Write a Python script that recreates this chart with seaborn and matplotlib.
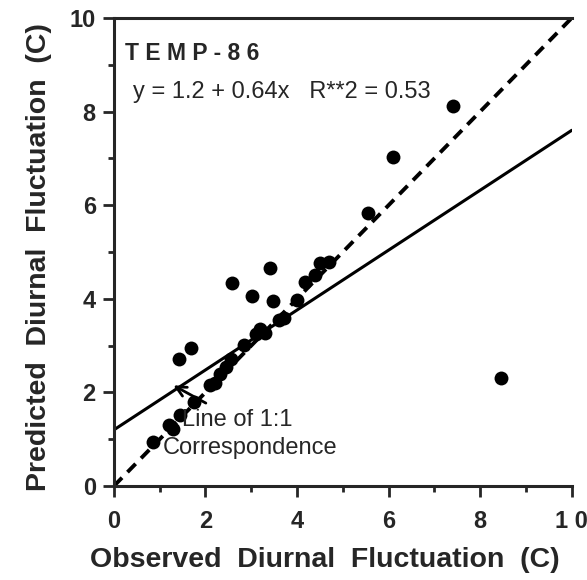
import numpy as np
import pandas as pd
import matplotlib
matplotlib.use("Agg")
import matplotlib.pyplot as plt
import seaborn as sns

# observed vs predicted diurnal fluctuation (C)
observed = [0.85, 1.2, 1.3, 1.45, 1.75, 1.42, 1.68, 2.1, 2.2, 2.32, 2.45, 2.55,
            2.58, 2.85, 3.02, 3.1, 3.2, 3.3, 3.4, 3.48, 3.6, 3.72, 4.0, 4.17,
            4.4, 4.5, 4.7, 5.55, 6.1, 7.4, 8.45]
predicted = [0.94, 1.3, 1.22, 1.52, 1.8, 2.72, 2.95, 2.15, 2.2, 2.4, 2.55, 2.72,
             4.33, 3.02, 4.05, 3.25, 3.35, 3.28, 4.65, 3.95, 3.55, 3.58, 3.97, 4.36,
             4.5, 4.77, 4.78, 5.83, 7.03, 8.13, 2.3]

intercept = 1.2
slope = 0.64
r2 = 0.53
axis_range = [0, 10]

df = pd.DataFrame({'observed': observed, 'predicted': predicted})

sns.set_style('ticks')
plt.rcParams['font.family'] = ['Liberation Sans', 'DejaVu Sans']

fig = plt.figure(figsize=(5.87, 5.80), dpi=100)
ax = fig.add_axes([0.194, 0.162, 0.780, 0.807])

sns.scatterplot(data=df, x='observed', y='predicted', color='black', s=100,
                edgecolor='black', linewidth=0, ax=ax, zorder=3)

xs = np.array(axis_range, dtype=float)
ax.plot(xs, xs, color='black', lw=2.8, linestyle=(0, (3.0, 2.0)))
ax.plot(xs, intercept + slope * xs, color='black', lw=2.2)

ax.set_xlim(axis_range)
ax.set_ylim(axis_range)
ax.set_xticks(np.arange(0, 11, 2))
ax.set_yticks(np.arange(0, 11, 2))
ax.set_xticks(np.arange(1, 10, 2), minor=True)
ax.set_yticks(np.arange(1, 10, 2), minor=True)
ax.set_xticklabels(['0', '2', '4', '6', '8', '1 0'])
ax.tick_params(which='major', length=8, width=2, labelsize=17)
ax.tick_params(which='minor', length=4.5, width=2)
ax.tick_params(axis='x', which='major', pad=9)
ax.tick_params(axis='y', which='major', pad=5)
for lab in ax.get_xticklabels() + ax.get_yticklabels():
    lab.set_fontweight('bold')

ax.spines['right'].set_visible(False)
for s in ['left', 'bottom', 'top']:
    ax.spines[s].set_linewidth(2.2)

ax.set_xlabel('Observed  Diurnal  Fluctuation  (C)', fontsize=20.5,
              fontweight='bold')
ax.set_ylabel('Predicted  Diurnal  Fluctuation  (C)', fontsize=20.5,
              fontweight='bold')
ax.xaxis.set_label_coords(0.46, -0.13)
ax.yaxis.set_label_coords(-0.135, 0.49)

ax.text(0.24, 9.25, 'T E M P - 8 6', fontsize=16.5, fontweight='bold', va='center')
ax.text(0.41, 8.42, f'y = {intercept} + {slope}x   R**2 = {r2}', fontsize=17,
        va='center')

ax.annotate('Line of 1:1', xy=(1.3, 2.15), xytext=(1.48, 1.41), fontsize=17,
            va='center', ha='left',
            arrowprops=dict(arrowstyle='->', color='black', lw=2,
                            shrinkA=4, shrinkB=0, mutation_scale=18))
ax.text(1.07, 0.81, 'Correspondence', fontsize=17, va='center', ha='left')

fig.savefig('out.png', dpi=100)
